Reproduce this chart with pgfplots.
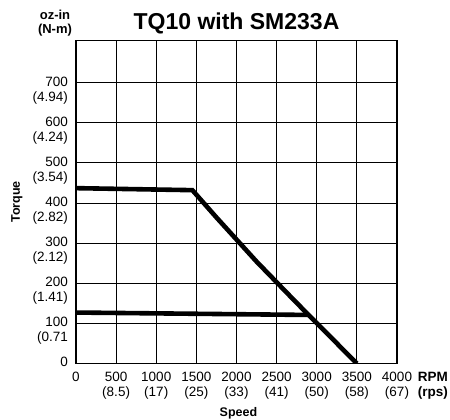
\documentclass[border=0pt]{standalone}
\usepackage{fontspec}
\setmainfont{Liberation Sans}
\usepackage{pgfplots}
\pgfplotsset{compat=1.18}

% two-line tick labels: number on top, SI value below
\newcommand{\xl}[2]{\begin{tabular}[t]{@{}c@{}}#1\\#2\end{tabular}}
\newcommand{\yl}[2]{\begin{tabular}[t]{@{}r@{}}#1\\#2\end{tabular}}

\begin{document}
\begin{tikzpicture}
\begin{axis}[
    name=ax,
    scale only axis,
    width=321pt, height=323pt,
    xmin=0, xmax=4000,
    ymin=0, ymax=805,
    xtick={0,500,1000,1500,2000,2500,3000,3500,4000},
    xticklabels={0, \xl{500}{(8.5)}, \xl{1000}{(17)}, \xl{1500}{(25)}, \xl{2000}{(33)},
                 \xl{2500}{(41)}, \xl{3000}{(50)}, \xl{3500}{(58)}, \xl{4000}{(67)}},
    ytick={0,100,200,300,400,500,600,700},
    yticklabels={0, \yl{100}{(0.71}, \yl{200}{(1.41)}, \yl{300}{(2.12)}, \yl{400}{(2.82)},
                 \yl{500}{(3.54)}, \yl{600}{(4.24)}, \yl{700}{(4.94)}},
    tick label style={font=\fontsize{13.5}{15}\selectfont, inner sep=0pt},
    xticklabel style={anchor=base, yshift=-18.5pt},
    yticklabel style={anchor=base east, xshift=-8pt, yshift=-3.5pt},
    major tick length=0pt,
    grid=major,
    major grid style={black, line width=0.9pt},
    axis line style={line width=1.8pt},
]
\addplot[black, line width=4.6pt, line join=miter] coordinates {
    (0,437) (1450,432) (1750,364) (2250,254) (2750,151) (3500,0)
};
\addplot[black, line width=4.6pt] coordinates {
    (0,127) (2900,121)
};
\end{axis}

\node[anchor=base, font=\fontsize{23}{26}\selectfont\bfseries]
    at ([yshift=11.4pt]ax.north) {TQ10 with SM233A};
\node[anchor=base, inner sep=0pt, font=\fontsize{13}{12}\selectfont\bfseries]
    at ([xshift=-21pt, yshift=20.5pt]ax.north west) {\xl{oz-in}{(N-m)}};
\node[anchor=base east, inner sep=0pt, font=\fontsize{13.5}{15}\selectfont\bfseries]
    at ([xshift=51pt, yshift=-18.5pt]ax.south east) {\yl{RPM}{(rps)}};
\node[anchor=base, inner sep=0pt, font=\fontsize{12.5}{14}\selectfont\bfseries]
    at ([xshift=2pt, yshift=-52.8pt]ax.south) {Speed};
\node[anchor=base, rotate=90, inner sep=0pt, font=\fontsize{12.5}{14}\selectfont\bfseries]
    at ([xshift=-56pt]ax.west) {Torque};

\pgfresetboundingbox
\path (ax.south west) ++(-76pt,-56.5pt) rectangle ++(450pt,420pt);
\end{tikzpicture}
\end{document}
